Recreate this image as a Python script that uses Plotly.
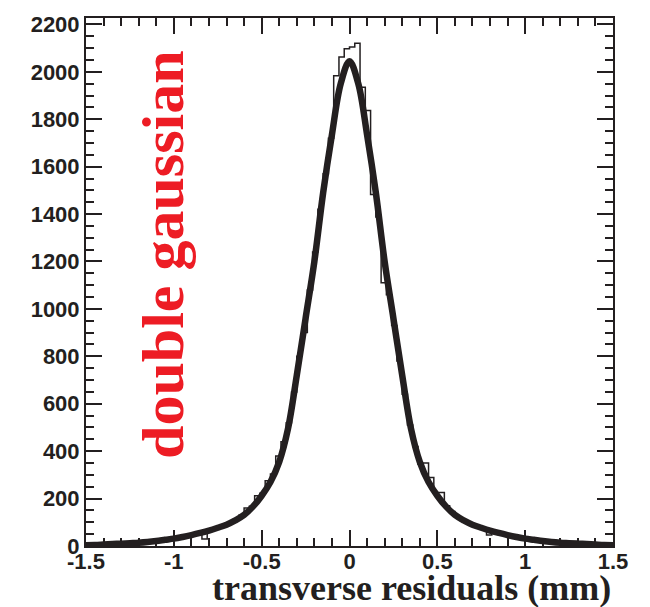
import numpy as np
import plotly.graph_objects as go

# ---- data ----
bin_low = -1.5
bin_width = 0.03
counts = [
    6, 8, 7, 9, 8, 10, 11, 10, 13, 12,
    16, 17, 20, 22, 24, 29, 30, 35, 37, 44,
    48, 52, 30, 64, 76, 82, 92, 102, 115, 130,
    160, 168, 212, 222, 275, 304, 380, 440, 520, 650,
    800, 900, 1080, 1240, 1420, 1570, 1720, 1983, 2062, 2097,
    2105, 2121, 1935, 1837, 1483, 1388, 1110, 1060, 930, 780,
    640, 510, 420, 345, 350, 289, 226, 226, 170, 145,
    122, 108, 100, 86, 82, 72, 46, 58, 52, 47,
    40, 38, 33, 30, 27, 24, 21, 19, 17, 14,
    13, 11, 10, 9, 8, 7, 6, 5, 4, 3,
]

fit_x = [-1.5, -1.45, -1.4, -1.35, -1.3, -1.25, -1.2, -1.15, -1.1, -1.05,
         -1.0, -0.95, -0.9, -0.85, -0.8, -0.75, -0.7, -0.65, -0.6, -0.55,
         -0.5, -0.45, -0.4, -0.35, -0.3, -0.25, -0.2, -0.15, -0.1, -0.05,
         0.0, 0.05, 0.1, 0.15, 0.2, 0.25, 0.3, 0.35, 0.4, 0.45,
         0.5, 0.55, 0.6, 0.65, 0.7, 0.75, 0.8, 0.85, 0.9, 0.95,
         1.0, 1.05, 1.1, 1.15, 1.2, 1.25, 1.3, 1.35, 1.4, 1.45, 1.5]
fit_y = [3, 4, 6, 8, 10, 12, 14, 17, 21, 26,
         31, 38, 46, 55, 65, 77, 90, 108, 131, 166,
         212, 270, 355, 495, 720, 960, 1200, 1490, 1735, 1950,
         2045, 1950, 1735, 1490, 1200, 960, 720, 495, 355, 270,
         212, 166, 131, 108, 90, 77, 65, 55, 46, 38,
         31, 26, 21, 17, 14, 12, 10, 8, 6, 4, 3]

x_ticks = [-1.5, -1, -0.5, 0, 0.5, 1, 1.5]
x_tick_text = ["-1.5", "-1", "-0.5", "0", "0.5", "1", "1.5"]
y_ticks = [0, 200, 400, 600, 800, 1000, 1200, 1400, 1600, 1800, 2000, 2200]

x_title = "transverse residuals (mm)"
label_text = "double gaussian"

# ---- build ----
edges = bin_low + bin_width * np.arange(len(counts) + 1)
step_x = list(edges)
step_y = list(counts) + [counts[-1]]

ink = "#231F20"
fig = go.Figure()
fig.add_trace(go.Scatter(x=step_x, y=step_y, mode="lines", line_shape="hv",
                         line=dict(color=ink, width=1.5), showlegend=False,
                         hoverinfo="skip"))
fig.add_trace(go.Scatter(x=fit_x, y=fit_y, mode="lines", line_shape="spline",
                         line=dict(color=ink, width=6.5), showlegend=False,
                         hoverinfo="skip"))

tickfont = dict(family="Liberation Sans", size=22, color=ink, weight="bold")
fig.update_layout(
    width=650, height=607,
    margin=dict(l=86, r=37, t=13, b=61),
    paper_bgcolor="white", plot_bgcolor="white",
    xaxis=dict(range=[-1.5, 1.5], tickvals=x_ticks, ticktext=x_tick_text,
               ticks="inside", ticklen=16, tickwidth=1.5, tickcolor=ink,
               minor=dict(dtick=0.1, ticks="inside", ticklen=8, tickwidth=1.5, tickcolor=ink),
               showline=True, linecolor=ink, linewidth=2, mirror="allticks",
               showgrid=False, zeroline=False, tickfont=tickfont,
               ticklabelstandoff=-5),
    yaxis=dict(range=[0, 2227], tickvals=y_ticks,
               ticks="inside", ticklen=16, tickwidth=1.5, tickcolor=ink,
               minor=dict(dtick=50, ticks="inside", ticklen=8, tickwidth=1.5, tickcolor=ink),
               showline=True, linecolor=ink, linewidth=2, mirror="allticks",
               showgrid=False, zeroline=False, tickfont=tickfont),
    annotations=[
        dict(text=label_text, xref="paper", yref="paper", x=0.145, y=0.552,
             xanchor="center", yanchor="middle", textangle=-90, showarrow=False,
             font=dict(family="Liberation Serif", size=60, color="#ED1C24", weight="bold")),
        dict(text=x_title, xref="paper", yref="paper", x=1.0, y=-0.079,
             xanchor="right", yanchor="middle", showarrow=False,
             font=dict(family="Liberation Serif", size=36, color=ink, weight="bold")),
    ],
)

fig.write_html("out.html")
